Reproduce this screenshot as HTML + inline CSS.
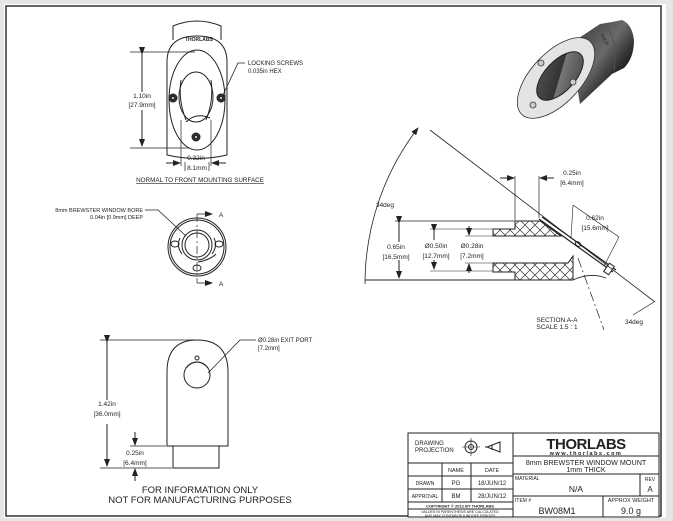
<!DOCTYPE html>
<html><head><meta charset="utf-8"><style>
html,body{margin:0;padding:0;background:#e6e6e6;}
svg{display:block;}
text{font-family:"Liberation Sans",sans-serif;fill:#222;}
</style></head><body>
<svg width="673" height="521" viewBox="0 0 673 521" xmlns="http://www.w3.org/2000/svg">
<defs>
<pattern id="hx" width="10" height="10" patternUnits="userSpaceOnUse">
<path d="M0 0L10 10M10 0L0 10" stroke="#333" stroke-width="0.7"/>
</pattern>
<marker id="ar" markerWidth="8" markerHeight="6" refX="7" refY="3" orient="auto" markerUnits="userSpaceOnUse"><path d="M0 0L8 3L0 6z" fill="#222"/></marker>
<linearGradient id="cyl" x1="0" y1="0" x2="1" y2="1"><stop offset="0" stop-color="#333"/><stop offset="0.45" stop-color="#6a6a6a"/><stop offset="0.7" stop-color="#222"/><stop offset="1" stop-color="#111"/></linearGradient>
<linearGradient id="win" x1="0" y1="0" x2="1" y2="1"><stop offset="0" stop-color="#555"/><stop offset="0.5" stop-color="#333"/><stop offset="0.5" stop-color="#777"/><stop offset="1" stop-color="#444"/></linearGradient>
</defs>
<rect x="0" y="0" width="673" height="521" fill="#e6e6e6"/>
<rect x="4" y="4" width="662" height="514" fill="#fff"/>
<rect x="6" y="6" width="655" height="510" fill="none" stroke="#333" stroke-width="1.5"/>

<!-- Top view -->
<g stroke="#222" fill="none" stroke-width="1">
<path d="M173 40 L173 26 Q197 16 221 26 L221 40" fill="#fff"/>
<path d="M167 155 L167 62 Q167 36 197 36 Q227 36 227 62 L227 155 Q197 162 167 155Z" fill="#fff"/>
<ellipse cx="197" cy="100" rx="28" ry="50"/>
<ellipse cx="196" cy="97" rx="17" ry="25"/>
<path d="M181 80 Q178 100 186 120 M211 80 Q214 100 206 120"/>
<path d="M186 122 Q196 112 210 118"/>
<circle cx="173" cy="98" r="4" fill="#333"/><circle cx="221" cy="98" r="4" fill="#333"/><circle cx="196" cy="137" r="4" fill="#333"/>
<circle cx="173" cy="98" r="1.5" fill="#fff"/><circle cx="221" cy="98" r="1.5" fill="#fff"/><circle cx="196" cy="137" r="1.5" fill="#fff"/>
<line x1="130" y1="52" x2="195" y2="52" stroke-width="0.7"/>
<line x1="130" y1="148" x2="190" y2="148" stroke-width="0.7"/>
<line x1="142" y1="54" x2="142" y2="92" marker-start="url(#ar)"/>
<line x1="142" y1="110" x2="142" y2="146" marker-end="url(#ar)"/>
<line x1="181" y1="120" x2="181" y2="166" stroke-width="0.7"/>
<line x1="211" y1="120" x2="211" y2="166" stroke-width="0.7"/>
<line x1="166" y1="163" x2="180" y2="163" marker-end="url(#ar)"/>
<line x1="226" y1="163" x2="212" y2="163" marker-end="url(#ar)"/>
<path d="M245 63 L238 63 L223 95" stroke-width="0.8"/>
<path d="M185 162 L185 171 M209 162 L209 171" stroke-width="0.7"/>
</g>
<text x="185" y="41" font-size="5" font-weight="bold" fill="#333">THORLABS</text>
<text x="142" y="98" font-size="6.5" text-anchor="middle">1.10in</text>
<text x="142" y="107" font-size="6.5" text-anchor="middle">[27.9mm]</text>
<text x="196" y="160" font-size="6.5" text-anchor="middle">0.32in</text>
<text x="197" y="170" font-size="6.5" text-anchor="middle">8.1mm</text>
<text x="248" y="65" font-size="6">LOCKING SCREWS</text>
<text x="248" y="73" font-size="6">0.035in HEX</text>
<text x="200" y="182" font-size="6.3" text-anchor="middle" text-decoration="underline">NORMAL TO FRONT MOUNTING SURFACE</text>

<!-- Front view -->
<g stroke="#222" fill="none" stroke-width="1">
<circle cx="197" cy="247" r="29" fill="#fff"/>
<circle cx="197" cy="247" r="27"/>
<circle cx="197" cy="245" r="15"/>
<circle cx="197" cy="245" r="12"/>
<path d="M180 238 Q176 246 182 254 M214 238 Q218 246 212 254 M198 262 Q210 260 216 254"/>
<ellipse cx="175" cy="244" rx="4" ry="3"/><ellipse cx="219" cy="244" rx="4" ry="3"/><ellipse cx="197" cy="268" rx="4" ry="3"/>
<line x1="197" y1="214" x2="197" y2="283" stroke-dasharray="8 3 2 3" stroke-width="0.7"/>
<line x1="197" y1="214" x2="212" y2="214" marker-end="url(#ar)" stroke-width="0.8"/>
<line x1="197" y1="283" x2="212" y2="283" marker-end="url(#ar)" stroke-width="0.8"/>
<path d="M145 210 L158 210 L186 236" stroke-width="0.8"/>
</g>
<text x="219" y="217" font-size="6.5">A</text>
<text x="219" y="286" font-size="6.5">A</text>
<text x="143" y="212" font-size="5.5" text-anchor="end">8mm BREWSTER WINDOW BORE</text>
<text x="143" y="219" font-size="5.5" text-anchor="end">0.04in [0.9mm] DEEP</text>

<!-- Side view -->
<g stroke="#222" fill="none" stroke-width="1">
<path d="M167 446 L167 372 Q167 340 197 340 Q228 340 228 372 L228 446 Z" fill="#fff"/>
<path d="M173 446 L173 468 L219 468 L219 446"/>
<circle cx="197" cy="375" r="13"/>
<path d="M186 368 Q197 356 208 368"/>
<circle cx="197" cy="358" r="2"/>
<line x1="100" y1="340" x2="195" y2="340" stroke-width="0.7"/>
<line x1="100" y1="468" x2="172" y2="468" stroke-width="0.7"/>
<line x1="130" y1="446" x2="166" y2="446" stroke-width="0.7"/>
<line x1="107" y1="342" x2="107" y2="400" marker-start="url(#ar)"/>
<line x1="107" y1="424" x2="107" y2="466" marker-end="url(#ar)"/>
<line x1="135" y1="432" x2="135" y2="445" marker-end="url(#ar)"/>
<line x1="135" y1="481" x2="135" y2="469" marker-end="url(#ar)"/>
<path d="M256 340 L240 340 L208 373" stroke-width="0.8"/>
</g>
<text x="107" y="406" font-size="6.5" text-anchor="middle">1.42in</text>
<text x="107" y="416" font-size="6.5" text-anchor="middle">[36.0mm]</text>
<text x="135" y="455" font-size="6.5" text-anchor="middle">0.25in</text>
<text x="135" y="465" font-size="6.5" text-anchor="middle">[6.4mm]</text>
<text x="258" y="342" font-size="6">Ø0.28in EXIT PORT</text>
<text x="258" y="350" font-size="6">[7.2mm]</text>
<text x="200" y="493" font-size="9.5" text-anchor="middle">FOR INFORMATION ONLY</text>
<text x="200" y="503" font-size="9.5" text-anchor="middle">NOT FOR MANUFACTURING PURPOSES</text>

<!-- Section A-A -->
<g stroke="#222" fill="none" stroke-width="1">
<path d="M493 229 L515 229 L515 221 L540 221 L561 236 L493 236 Z" fill="url(#hx)"/>
<path d="M493 263 L568 263 L573 256 L573 280 L515 280 L515 272 L493 272 Z" fill="url(#hx)"/>
<line x1="365" y1="280" x2="515" y2="280"/>
<line x1="395" y1="221" x2="515" y2="221" stroke-width="0.8"/>
<path d="M573 280 Q590 272 606 278" stroke-width="0.8"/>
<path d="M539 219 L613 272 M542 217 L616 270" stroke-width="1.2"/>
<rect x="606" y="264" width="6" height="10" transform="rotate(35 609 269)" fill="#fff"/>
<ellipse cx="578" cy="244" rx="3" ry="2" transform="rotate(35 578 244)"/>
<line x1="430" y1="130" x2="655" y2="302" stroke-width="0.8"/>
<path d="M365 284 A256 256 0 0 1 418 128" stroke-width="0.8" marker-end="url(#ar)"/>
<line x1="578" y1="258" x2="604" y2="330" stroke-dasharray="10 3 2 3" stroke-width="0.7"/>
<line x1="399" y1="223" x2="399" y2="242" marker-start="url(#ar)"/>
<line x1="399" y1="260" x2="399" y2="278" marker-end="url(#ar)"/>
<line x1="430" y1="229" x2="493" y2="229" stroke-width="0.6"/>
<line x1="430" y1="271" x2="493" y2="271" stroke-width="0.6"/>
<line x1="434" y1="231" x2="434" y2="240" marker-start="url(#ar)"/>
<line x1="434" y1="260" x2="434" y2="269" marker-end="url(#ar)"/>
<line x1="465" y1="236" x2="493" y2="236" stroke-width="0.6"/>
<line x1="465" y1="263" x2="493" y2="263" stroke-width="0.6"/>
<line x1="469" y1="226" x2="469" y2="235" marker-end="url(#ar)"/>
<line x1="469" y1="273" x2="469" y2="264" marker-end="url(#ar)"/>
<line x1="515" y1="176" x2="515" y2="220" stroke-width="0.7"/>
<line x1="539" y1="176" x2="539" y2="218" stroke-width="0.7"/>
<line x1="500" y1="178" x2="514" y2="178" marker-end="url(#ar)"/>
<line x1="554" y1="178" x2="540" y2="178" marker-end="url(#ar)"/>
<line x1="571" y1="238" x2="573" y2="205" stroke-width="0.6"/>
<line x1="573" y1="205" x2="619" y2="237" stroke-width="0.7"/>
<line x1="619" y1="237" x2="604" y2="266" stroke-width="0.6"/>
<line x1="633" y1="315" x2="654" y2="302" stroke-width="0.7"/>
</g>
<text x="385" y="207" font-size="6.5" text-anchor="middle">34deg</text>
<text x="396" y="249" font-size="6.5" text-anchor="middle">0.65in</text>
<text x="396" y="259" font-size="6.5" text-anchor="middle">[16.5mm]</text>
<text x="436" y="248" font-size="6.5" text-anchor="middle">Ø0.50in</text>
<text x="436" y="258" font-size="6.5" text-anchor="middle">[12.7mm]</text>
<text x="472" y="248" font-size="6.5" text-anchor="middle">Ø0.28in</text>
<text x="472" y="258" font-size="6.5" text-anchor="middle">[7.2mm]</text>
<text x="572" y="175" font-size="6.5" text-anchor="middle">0.25in</text>
<text x="572" y="185" font-size="6.5" text-anchor="middle">[6.4mm]</text>
<text x="595" y="220" font-size="6.5" text-anchor="middle">0.62in</text>
<text x="595" y="230" font-size="6.5" text-anchor="middle">[15.6mm]</text>
<text x="557" y="322" font-size="6.5" text-anchor="middle">SECTION A-A</text>
<text x="557" y="329" font-size="6.5" text-anchor="middle">SCALE 1.5 : 1</text>
<text x="634" y="324" font-size="6.5" text-anchor="middle">34deg</text>

<!-- Photo -->
<path d="M570 44 L600 24 L612 22 L622 20 Q632 24 634 40 Q634 58 624 68 L612 74 L580 104 Z" fill="url(#cyl)"/>
<path d="M605 24 Q618 40 614 70" stroke="#555" fill="none" stroke-width="1"/>
<ellipse cx="556" cy="78" rx="50" ry="25" transform="rotate(-47 556 78)" fill="#e4e4e4" stroke="#333" stroke-width="0.8"/>
<ellipse cx="560" cy="76" rx="30" ry="15" transform="rotate(-47 560 76)" fill="url(#win)" stroke="#222"/>
<g fill="#ccc" stroke="#333" stroke-width="0.8">
<circle cx="541" cy="63" r="3"/><circle cx="573" cy="82" r="3"/><circle cx="533" cy="105" r="3"/>
</g>
<text x="600" y="35" font-size="4.5" fill="#ddd" transform="rotate(60 600 35)">THOR</text>

<!-- Title block -->
<g stroke="#222" fill="none" stroke-width="1">
<rect x="408" y="433" width="251" height="84" fill="#fff"/>
<line x1="513" y1="433" x2="513" y2="517"/>
<line x1="408" y1="463" x2="513" y2="463"/>
<line x1="408" y1="476" x2="513" y2="476"/>
<line x1="408" y1="489" x2="513" y2="489"/>
<line x1="408" y1="502" x2="513" y2="502"/>
<line x1="408" y1="509" x2="513" y2="509"/>
<line x1="442" y1="463" x2="442" y2="502"/>
<line x1="471" y1="463" x2="471" y2="502"/>
<line x1="513" y1="456" x2="659" y2="456"/>
<line x1="513" y1="474" x2="659" y2="474"/>
<line x1="513" y1="496" x2="659" y2="496"/>
<line x1="640" y1="474" x2="640" y2="496"/>
<line x1="603" y1="496" x2="603" y2="517"/>
<circle cx="471" cy="447" r="6"/><circle cx="471" cy="447" r="2.5"/>
<path d="M462 447 H480 M471 438 V456" stroke-width="0.6"/>
<path d="M487 447 L500 442 L500 452 Z M492 445 V450 M487 447 H485"/>
</g>
<text x="415" y="445" font-size="6">DRAWING</text>
<text x="415" y="452" font-size="6">PROJECTION</text>
<text x="456" y="472" font-size="5.5" text-anchor="middle">NAME</text>
<text x="492" y="472" font-size="5.5" text-anchor="middle">DATE</text>
<text x="425" y="485" font-size="5" text-anchor="middle">DRAWN</text>
<text x="456" y="485" font-size="6" text-anchor="middle">PG</text>
<text x="492" y="485" font-size="6" text-anchor="middle">18/JUN/12</text>
<text x="425" y="498" font-size="5" text-anchor="middle">APPROVAL</text>
<text x="456" y="498" font-size="6" text-anchor="middle">BM</text>
<text x="492" y="498" font-size="6" text-anchor="middle">28/JUN/12</text>
<text x="460" y="507.5" font-size="4" font-weight="bold" text-anchor="middle">COPYRIGHT © 2012 BY THORLABS</text>
<text x="460" y="513" font-size="3.6" text-anchor="middle">VALUES IN PARENTHESIS ARE CALCULATED</text>
<text x="460" y="517" font-size="3.6" text-anchor="middle">AND MAY CONTAIN ROUNDOFF ERRORS</text>
<text x="586" y="449" font-size="15" font-weight="bold" text-anchor="middle" letter-spacing="-0.5">THORLABS</text>
<text x="586" y="455" font-size="5.5" font-weight="bold" text-anchor="middle" letter-spacing="1.5">www.thorlabs.com</text>
<text x="586" y="465" font-size="7.2" text-anchor="middle">8mm BREWSTER WINDOW MOUNT</text>
<text x="586" y="472" font-size="7.2" text-anchor="middle">1mm THICK</text>
<text x="515" y="480" font-size="5">MATERIAL</text>
<text x="576" y="492" font-size="8.5" text-anchor="middle">N/A</text>
<text x="650" y="481" font-size="5" text-anchor="middle">REV</text>
<text x="650" y="492" font-size="8" text-anchor="middle">A</text>
<text x="515" y="502" font-size="5">ITEM #</text>
<text x="557" y="514" font-size="9" text-anchor="middle">BW08M1</text>
<text x="631" y="502" font-size="5.5" text-anchor="middle">APPROX WEIGHT</text>
<text x="631" y="514" font-size="9" text-anchor="middle">9.0 g</text>
</svg>
</body></html>
